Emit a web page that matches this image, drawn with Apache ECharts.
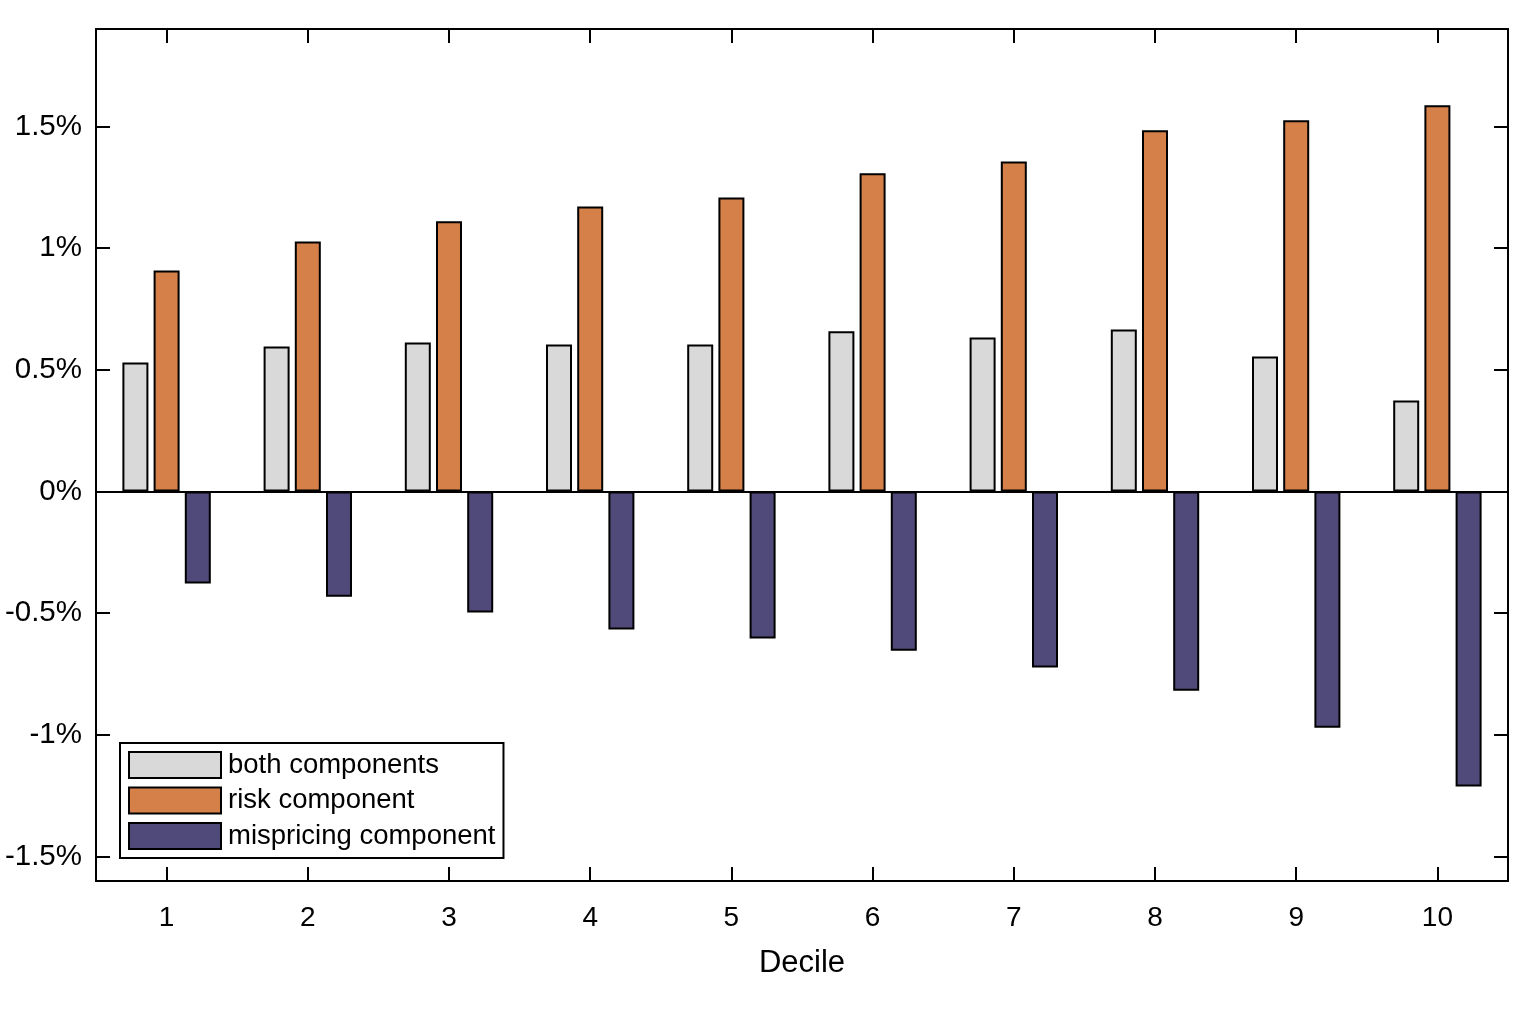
<!DOCTYPE html>
<html>
<head>
<meta charset="utf-8">
<script src="https://cdn.jsdelivr.net/npm/echarts@6/dist/echarts.min.js"></script>
<style>
html,body{margin:0;padding:0;background:#fff;}
#chart{width:1516px;height:1014px;}
</style>
</head>
<body>
<div id="chart"></div>
<script>
const categories = ['1','2','3','4','5','6','7','8','9','10'];
const bothComponents = [0.53, 0.596, 0.612, 0.604, 0.604, 0.658, 0.633, 0.666, 0.555, 0.374];
const riskComponent = [0.908, 1.027, 1.110, 1.171, 1.208, 1.307, 1.356, 1.484, 1.525, 1.587];
const mispricingComponent = [-0.378, -0.432, -0.497, -0.567, -0.604, -0.654, -0.723, -0.818, -0.970, -1.212];
const yTicks = [-1.5, -1, -0.5, 0, 0.5, 1, 1.5];
const seriesNames = ['both components', 'risk component', 'mispricing component'];

const FONT = '"Liberation Sans", Arial, sans-serif';
const chart = echarts.init(document.getElementById('chart'));
const fmt = v => {
  const r = Math.round(v * 10) / 10;
  return (r === 0 ? '0' : String(r)) + '%';
};
const tickStyle = {show: true, inside: true, length: 14, lineStyle: {color: '#000', width: 2}};
const lineStyle = {show: true, onZero: false, lineStyle: {color: '#000', width: 2}};
const barBase = {type: 'bar', barWidth: 26, barGap: '20%'};
chart.setOption({
  animation: false,
  textStyle: {fontFamily: FONT},
  grid: {left: 96, right: 8, top: 29, bottom: 133, containLabel: false},
  legend: {
    orient: 'vertical', left: 120, top: 743,
    itemWidth: 92, itemHeight: 26, itemGap: 7.5,
    padding: [8, 8, 8, 8],
    borderColor: '#000', borderWidth: 2, backgroundColor: '#fff',
    icon: 'rect',
    itemStyle: {borderColor: '#000', borderWidth: 2},
    textStyle: {fontSize: 27.5, color: '#000', fontFamily: FONT, padding: [0, 0, 0, 2]},
    data: seriesNames
  },
  xAxis: [
    {type: 'category', data: categories, position: 'bottom',
     axisLine: lineStyle, axisTick: Object.assign({alignWithLabel: true}, tickStyle),
     axisLabel: {fontSize: 28, color: '#000', margin: 23, fontFamily: FONT},
     name: 'Decile', nameLocation: 'middle', nameGap: 67,
     nameTextStyle: {fontSize: 31, color: '#000', fontFamily: FONT},
     splitLine: {show: false}},
    {type: 'category', data: categories, position: 'top',
     axisLine: lineStyle, axisTick: Object.assign({alignWithLabel: true}, tickStyle),
     axisLabel: {show: false}, splitLine: {show: false}}
  ],
  yAxis: [
    {type: 'value', min: -1.6, max: 1.9, position: 'left',
     axisLine: lineStyle,
     axisTick: Object.assign({customValues: yTicks}, tickStyle),
     axisLabel: {customValues: yTicks, formatter: fmt, fontSize: 29.5, color: '#000', margin: 14,
       padding: [10, 0, 0, 0], fontFamily: FONT},
     splitLine: {show: false}},
    {type: 'value', min: -1.6, max: 1.9, position: 'right',
     axisLine: lineStyle,
     axisTick: Object.assign({customValues: yTicks}, tickStyle),
     axisLabel: {show: false},
     splitLine: {show: false}}
  ],
  series: [
    Object.assign({name: seriesNames[0], data: bothComponents,
      itemStyle: {color: '#d9d9d9', borderColor: '#000', borderWidth: 2}}, barBase),
    Object.assign({name: seriesNames[1], data: riskComponent,
      itemStyle: {color: '#d58048', borderColor: '#000', borderWidth: 2}}, barBase),
    Object.assign({name: seriesNames[2], data: mispricingComponent,
      itemStyle: {color: '#504a7a', borderColor: '#000', borderWidth: 2},
      markLine: {silent: true, symbol: 'none', label: {show: false},
        lineStyle: {color: '#000', width: 2, type: 'solid'},
        data: [{yAxis: 0}]}}, barBase)
  ]
});
</script>
</body>
</html>
